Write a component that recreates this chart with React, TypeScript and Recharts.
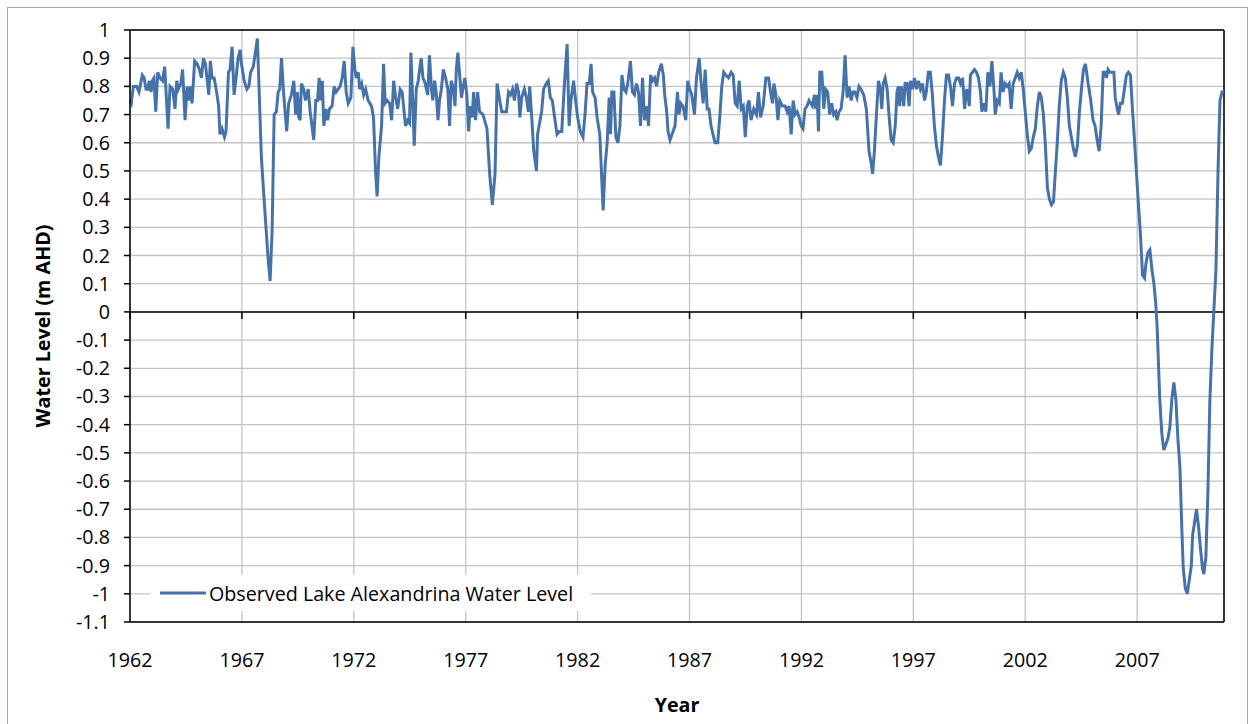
import {
  CartesianGrid,
  Line,
  LineChart,
  ReferenceLine,
  XAxis,
  YAxis,
} from "recharts";

// Observed Lake Alexandrina water level (m AHD), decimal year vs level
const years = [
  1962.0, 1962.06, 1962.15, 1962.3, 1962.4, 1962.55, 1962.63, 1962.72, 1962.8, 1962.86,
  1962.94, 1963.0, 1963.07, 1963.15, 1963.24, 1963.34, 1963.45, 1963.55, 1963.7, 1963.79,
  1963.91, 1964.01, 1964.09, 1964.16, 1964.27, 1964.35, 1964.46, 1964.55, 1964.62, 1964.7,
  1964.77, 1964.89, 1965.0, 1965.1, 1965.19, 1965.28, 1965.37, 1965.52, 1965.59, 1965.67,
  1965.76, 1965.87, 1965.96, 1966.02, 1966.11, 1966.22, 1966.29, 1966.4, 1966.47, 1966.56,
  1966.65, 1966.74, 1966.83, 1966.92, 1966.98, 1967.1, 1967.22, 1967.31, 1967.39, 1967.51,
  1967.69, 1967.87, 1967.95, 1968.05, 1968.17, 1968.26, 1968.35, 1968.44, 1968.54, 1968.62,
  1968.69, 1968.77, 1968.86, 1969.0, 1969.09, 1969.21, 1969.32, 1969.4, 1969.48, 1969.54,
  1969.6, 1969.66, 1969.76, 1969.84, 1969.96, 1970.05, 1970.21, 1970.3, 1970.38, 1970.45,
  1970.51, 1970.59, 1970.66, 1970.75, 1970.83, 1970.91, 1971.03, 1971.12, 1971.21, 1971.3,
  1971.39, 1971.48, 1971.57, 1971.66, 1971.75, 1971.87, 1971.96, 1972.05, 1972.11, 1972.2,
  1972.26, 1972.35, 1972.44, 1972.53, 1972.64, 1972.79, 1972.88, 1972.97, 1973.04, 1973.12,
  1973.24, 1973.33, 1973.4, 1973.49, 1973.6, 1973.69, 1973.78, 1973.87, 1973.96, 1974.07,
  1974.16, 1974.31, 1974.41, 1974.49, 1974.55, 1974.64, 1974.7, 1974.79, 1974.88, 1974.94,
  1975.01, 1975.09, 1975.19, 1975.3, 1975.38, 1975.47, 1975.53, 1975.61, 1975.68, 1975.76,
  1975.83, 1975.91, 1976.0, 1976.1, 1976.2, 1976.28, 1976.35, 1976.43, 1976.52, 1976.58,
  1976.65, 1976.72, 1976.81, 1976.87, 1976.96, 1977.05, 1977.13, 1977.2, 1977.29, 1977.35,
  1977.44, 1977.53, 1977.62, 1977.77, 1977.95, 1978.07, 1978.19, 1978.31, 1978.4, 1978.52,
  1978.61, 1978.7, 1978.82, 1978.91, 1979.0, 1979.09, 1979.18, 1979.27, 1979.36, 1979.42,
  1979.5, 1979.62, 1979.71, 1979.8, 1979.86, 1979.95, 1980.04, 1980.16, 1980.21, 1980.3,
  1980.39, 1980.48, 1980.6, 1980.69, 1980.78, 1980.87, 1980.99, 1981.08, 1981.18, 1981.29,
  1981.41, 1981.53, 1981.62, 1981.7, 1981.82, 1981.91, 1982.0, 1982.12, 1982.24, 1982.33,
  1982.42, 1982.52, 1982.6, 1982.67, 1982.78, 1982.87, 1982.99, 1983.14, 1983.23, 1983.32,
  1983.41, 1983.47, 1983.53, 1983.62, 1983.71, 1983.8, 1983.89, 1983.98, 1984.07, 1984.16,
  1984.24, 1984.36, 1984.45, 1984.54, 1984.63, 1984.72, 1984.81, 1984.9, 1984.99, 1985.08,
  1985.17, 1985.26, 1985.35, 1985.44, 1985.53, 1985.62, 1985.74, 1985.83, 1985.89, 1985.98,
  1986.04, 1986.13, 1986.22, 1986.35, 1986.46, 1986.53, 1986.61, 1986.71, 1986.83, 1986.92,
  1987.01, 1987.1, 1987.22, 1987.31, 1987.43, 1987.52, 1987.61, 1987.7, 1987.79, 1987.87,
  1987.96, 1988.05, 1988.14, 1988.26, 1988.35, 1988.44, 1988.53, 1988.62, 1988.74, 1988.86,
  1988.95, 1989.04, 1989.13, 1989.22, 1989.31, 1989.4, 1989.49, 1989.58, 1989.66, 1989.75,
  1989.87, 1989.99, 1990.08, 1990.17, 1990.29, 1990.41, 1990.53, 1990.62, 1990.71, 1990.77,
  1990.86, 1990.95, 1991.03, 1991.15, 1991.27, 1991.36, 1991.45, 1991.54, 1991.63, 1991.72,
  1991.81, 1991.9, 1991.99, 1992.07, 1992.16, 1992.25, 1992.34, 1992.49, 1992.58, 1992.64,
  1992.7, 1992.76, 1992.82, 1992.91, 1993.0, 1993.08, 1993.17, 1993.26, 1993.35, 1993.44,
  1993.53, 1993.59, 1993.68, 1993.77, 1993.86, 1993.95, 1994.04, 1994.13, 1994.22, 1994.3,
  1994.39, 1994.48, 1994.57, 1994.66, 1994.78, 1994.9, 1995.02, 1995.11, 1995.18, 1995.26,
  1995.35, 1995.44, 1995.53, 1995.59, 1995.65, 1995.74, 1995.83, 1995.92, 1996.01, 1996.1,
  1996.19, 1996.27, 1996.33, 1996.39, 1996.45, 1996.51, 1996.57, 1996.63, 1996.72, 1996.81,
  1996.87, 1996.96, 1997.05, 1997.14, 1997.23, 1997.32, 1997.41, 1997.5, 1997.58, 1997.67,
  1997.76, 1997.85, 1997.94, 1998.03, 1998.12, 1998.21, 1998.3, 1998.39, 1998.48, 1998.57,
  1998.66, 1998.75, 1998.84, 1998.93, 1999.02, 1999.11, 1999.2, 1999.29, 1999.38, 1999.44,
  1999.5, 1999.55, 1999.64, 1999.73, 1999.82, 1999.91, 2000.0, 2000.06, 2000.15, 2000.24,
  2000.33, 2000.42, 2000.51, 2000.6, 2000.66, 2000.75, 2000.84, 2000.92, 2001.01, 2001.1,
  2001.19, 2001.28, 2001.37, 2001.46, 2001.55, 2001.64, 2001.73, 2001.82, 2001.91, 2002.0,
  2002.09, 2002.18, 2002.27, 2002.36, 2002.45, 2002.54, 2002.63, 2002.72, 2002.81, 2002.9,
  2002.99, 2003.08, 2003.17, 2003.26, 2003.34, 2003.43, 2003.52, 2003.61, 2003.7, 2003.79,
  2003.88, 2003.97, 2004.06, 2004.15, 2004.24, 2004.33, 2004.42, 2004.51, 2004.6, 2004.69,
  2004.81, 2004.91, 2005.03, 2005.12, 2005.21, 2005.3, 2005.39, 2005.48, 2005.57, 2005.63,
  2005.7, 2005.78, 2005.87, 2005.96, 2006.02, 2006.11, 2006.17, 2006.25, 2006.34, 2006.43,
  2006.52, 2006.61, 2006.7, 2006.79, 2006.88, 2006.97, 2007.06, 2007.15, 2007.24, 2007.33,
  2007.39, 2007.48, 2007.57, 2007.66, 2007.75, 2007.83, 2007.89, 2007.95, 2008.01, 2008.1,
  2008.19, 2008.28, 2008.37, 2008.46, 2008.55, 2008.64, 2008.73, 2008.82, 2008.91, 2009.0,
  2009.06, 2009.15, 2009.24, 2009.33, 2009.42, 2009.48, 2009.56, 2009.65, 2009.74, 2009.83,
  2009.92, 2009.98, 2010.07, 2010.16, 2010.25, 2010.34, 2010.43, 2010.52, 2010.61, 2010.7,
  2010.79, 2010.88,
];

const levels = [
  0.75, 0.74, 0.8, 0.8, 0.78, 0.84, 0.83, 0.79, 0.79, 0.82,
  0.78, 0.82, 0.83, 0.71, 0.85, 0.83, 0.82, 0.87, 0.65, 0.8,
  0.79, 0.72, 0.82, 0.79, 0.81, 0.86, 0.68, 0.8, 0.75, 0.8,
  0.74, 0.89, 0.88, 0.86, 0.83, 0.9, 0.88, 0.77, 0.89, 0.83,
  0.83, 0.78, 0.73, 0.63, 0.65, 0.62, 0.64, 0.85, 0.86, 0.94,
  0.77, 0.83, 0.9, 0.93, 0.88, 0.82, 0.79, 0.8, 0.85, 0.87,
  0.97, 0.55, 0.45, 0.33, 0.19, 0.11, 0.29, 0.7, 0.71, 0.78,
  0.79, 0.9, 0.78, 0.64, 0.74, 0.77, 0.82, 0.7, 0.78, 0.69,
  0.68, 0.81, 0.79, 0.75, 0.79, 0.71, 0.61, 0.75, 0.75, 0.83,
  0.75, 0.82, 0.66, 0.72, 0.68, 0.72, 0.73, 0.8, 0.78, 0.79,
  0.8, 0.83, 0.89, 0.78, 0.74, 0.76, 0.94, 0.86, 0.83, 0.85,
  0.79, 0.81, 0.77, 0.79, 0.75, 0.73, 0.69, 0.5, 0.41, 0.55,
  0.66, 0.88, 0.74, 0.75, 0.74, 0.68, 0.82, 0.76, 0.72, 0.79,
  0.78, 0.66, 0.68, 0.67, 0.92, 0.73, 0.59, 0.79, 0.82, 0.86,
  0.9, 0.83, 0.81, 0.77, 0.91, 0.79, 0.75, 0.82, 0.78, 0.68,
  0.75, 0.79, 0.86, 0.83, 0.79, 0.66, 0.82, 0.8, 0.73, 0.86,
  0.92, 0.85, 0.76, 0.79, 0.83, 0.77, 0.64, 0.73, 0.69, 0.78,
  0.68, 0.78, 0.71, 0.7, 0.65, 0.49, 0.38, 0.49, 0.81, 0.75,
  0.71, 0.71, 0.71, 0.78, 0.77, 0.79, 0.75, 0.81, 0.78, 0.69,
  0.76, 0.79, 0.76, 0.71, 0.8, 0.69, 0.57, 0.5, 0.63, 0.67,
  0.71, 0.79, 0.81, 0.82, 0.76, 0.75, 0.68, 0.63, 0.64, 0.64,
  0.81, 0.95, 0.66, 0.75, 0.82, 0.75, 0.69, 0.64, 0.62, 0.7,
  0.81, 0.81, 0.88, 0.78, 0.76, 0.69, 0.63, 0.36, 0.52, 0.6,
  0.76, 0.63, 0.78, 0.78, 0.62, 0.6, 0.66, 0.84, 0.79, 0.78,
  0.81, 0.89, 0.78, 0.77, 0.81, 0.78, 0.66, 0.83, 0.68, 0.73,
  0.66, 0.84, 0.82, 0.83, 0.8, 0.85, 0.88, 0.84, 0.77, 0.71,
  0.64, 0.61, 0.63, 0.66, 0.78, 0.7, 0.74, 0.73, 0.68, 0.82,
  0.79, 0.77, 0.7, 0.83, 0.9, 0.81, 0.74, 0.86, 0.72, 0.72,
  0.66, 0.63, 0.6, 0.6, 0.69, 0.8, 0.85, 0.84, 0.83, 0.85,
  0.84, 0.74, 0.73, 0.82, 0.72, 0.73, 0.62, 0.73, 0.75, 0.68,
  0.72, 0.7, 0.78, 0.69, 0.73, 0.83, 0.83, 0.78, 0.74, 0.81,
  0.77, 0.68, 0.75, 0.73, 0.73, 0.71, 0.73, 0.63, 0.75, 0.7,
  0.71, 0.69, 0.66, 0.65, 0.72, 0.73, 0.75, 0.73, 0.77, 0.72,
  0.77, 0.64, 0.85, 0.85, 0.72, 0.79, 0.78, 0.7, 0.74, 0.7,
  0.71, 0.68, 0.71, 0.72, 0.78, 0.91, 0.76, 0.8, 0.75, 0.78,
  0.78, 0.76, 0.8, 0.79, 0.77, 0.72, 0.57, 0.53, 0.49, 0.57,
  0.7, 0.82, 0.79, 0.72, 0.81, 0.83, 0.79, 0.69, 0.61, 0.6,
  0.66, 0.78, 0.8, 0.73, 0.8, 0.78, 0.73, 0.81, 0.81, 0.73,
  0.82, 0.79, 0.83, 0.79, 0.82, 0.79, 0.81, 0.75, 0.78, 0.85,
  0.85, 0.77, 0.66, 0.59, 0.55, 0.52, 0.62, 0.75, 0.84, 0.84,
  0.8, 0.73, 0.81, 0.83, 0.83, 0.81, 0.83, 0.72, 0.79, 0.77,
  0.73, 0.84, 0.85, 0.86, 0.85, 0.83, 0.78, 0.71, 0.74, 0.71,
  0.85, 0.8, 0.89, 0.79, 0.7, 0.75, 0.74, 0.85, 0.78, 0.81,
  0.8, 0.81, 0.72, 0.81, 0.83, 0.85, 0.83, 0.85, 0.79, 0.71,
  0.63, 0.57, 0.58, 0.62, 0.65, 0.73, 0.78, 0.76, 0.7, 0.59,
  0.44, 0.4, 0.38, 0.39, 0.49, 0.6, 0.73, 0.82, 0.85, 0.83,
  0.76, 0.66, 0.62, 0.58, 0.55, 0.59, 0.71, 0.79, 0.86, 0.88,
  0.81, 0.76, 0.68, 0.66, 0.61, 0.57, 0.66, 0.85, 0.85, 0.83,
  0.86, 0.85, 0.85, 0.85, 0.76, 0.72, 0.7, 0.74, 0.74, 0.79,
  0.84, 0.85, 0.84, 0.72, 0.61, 0.49, 0.38, 0.27, 0.13, 0.12,
  0.17, 0.21, 0.22, 0.15, 0.1, 0.03, -0.05, -0.18, -0.31, -0.43,
  -0.49, -0.47, -0.45, -0.41, -0.31, -0.25, -0.31, -0.45, -0.55, -0.78,
  -0.91, -0.98, -1.0, -0.95, -0.9, -0.79, -0.75, -0.7, -0.76, -0.84,
  -0.91, -0.93, -0.87, -0.64, -0.31, -0.13, 0.01, 0.15, 0.49, 0.75,
  0.78, 0.78,
];

const yearTicks = [1962, 1967, 1972, 1977, 1982, 1987, 1992, 1997, 2002, 2007];
const levelTicks = [
  1, 0.9, 0.8, 0.7, 0.6, 0.5, 0.4, 0.3, 0.2, 0.1, 0, -0.1, -0.2, -0.3, -0.4, -0.5,
  -0.6, -0.7, -0.8, -0.9, -1, -1.1,
];

const X_MAX = 2010.88;
const LINE_COLOR = "#4672aa";
const GRID_COLOR = "#c3c3c3";
const FONT = "'Open Sans', sans-serif";
const TEXT_SIZE = 19.7;

const chartData = years.map((t, i) => ({ t, level: levels[i] }));

const formatLevel = (v: number) => String(Math.round(v * 10) / 10);

export default function App() {
  return (
    <div
      style={{
        position: "absolute",
        left: 0,
        top: 0,
        width: 1250,
        height: 724,
        overflow: "hidden",
        background: "#fff",
      }}
    >
      {/* outer chart frame */}
      <div
        style={{
          position: "absolute",
          left: 7,
          top: 7,
          width: 1241,
          height: 740,
          border: "1px solid #a6a6a6",
          boxSizing: "border-box",
        }}
      />
      <LineChart
        width={1250}
        height={724}
        data={chartData}
        margin={{ top: 30, right: 26, bottom: 8, left: 20 }}
        style={{ position: "absolute", left: 0, top: 0 }}
      >
        <CartesianGrid stroke={GRID_COLOR} strokeWidth={1.3} />
        <XAxis
          dataKey="t"
          type="number"
          domain={[1962, X_MAX]}
          ticks={yearTicks}
          interval={0}
          height={94}
          tickLine={false}
          tickSize={0}
          tickMargin={31}
          axisLine={{ stroke: "#000", strokeWidth: 1.5 }}
          tick={{ fill: "#000", fontSize: TEXT_SIZE, fontFamily: FONT }}
          label={{
            value: "Year",
            position: "insideBottom",
            offset: 4,
            style: { fill: "#000", fontSize: TEXT_SIZE, fontWeight: 700, fontFamily: FONT },
          }}
        />
        <YAxis
          type="number"
          domain={[-1.1, 1]}
          ticks={levelTicks}
          interval={0}
          width={110}
          tickSize={6}
          tickMargin={14}
          tickFormatter={formatLevel}
          axisLine={{ stroke: "#000", strokeWidth: 1.5 }}
          tickLine={{ stroke: "#000", strokeWidth: 1.5 }}
          tick={{ fill: "#000", fontSize: TEXT_SIZE, fontFamily: FONT }}
          label={{
            content: ({ viewBox }: any) => {
              const cx = viewBox.x + 22;
              const cy = viewBox.y + viewBox.height / 2;
              return (
                <text
                  x={cx}
                  y={cy}
                  transform={`rotate(-90, ${cx}, ${cy})`}
                  textAnchor="middle"
                  dominantBaseline="central"
                  fill="#000"
                  fontSize={TEXT_SIZE}
                  fontWeight={700}
                  fontFamily={FONT}
                >
                  Water Level (m AHD)
                </text>
              );
            },
          }}
        />
        {/* plot area frame: top and right edges */}
        <ReferenceLine y={1} stroke="#000" strokeWidth={1.5} />
        <ReferenceLine x={X_MAX} stroke="#000" strokeWidth={1.5} />
        {/* horizontal axis crosses at zero, with its tick marks */}
        <ReferenceLine y={0} stroke="#000" strokeWidth={1.5} />
        {yearTicks.map((yr) => (
          <ReferenceLine
            key={yr}
            segment={[
              { x: yr, y: 0 },
              { x: yr, y: -0.025 },
            ]}
            stroke="#000"
            strokeWidth={1.5}
          />
        ))}
        <Line
          type="linear"
          dataKey="level"
          stroke={LINE_COLOR}
          strokeWidth={3}
          dot={false}
          activeDot={false}
          isAnimationActive={false}
          name="Observed Lake Alexandrina Water Level"
        />
      </LineChart>
      {/* legend box sits over the lower-left of the plot */}
      <div
        style={{
          position: "absolute",
          left: 150,
          top: 575,
          width: 441,
          height: 36,
          background: "#fff",
          display: "flex",
          alignItems: "center",
          fontFamily: FONT,
          fontSize: TEXT_SIZE,
          color: "#000",
          boxSizing: "border-box",
          paddingLeft: 10,
        }}
      >
        <svg width={46} height={6} style={{ display: "block" }}>
          <line x1={0} y1={3} x2={46} y2={3} stroke={LINE_COLOR} strokeWidth={3} />
        </svg>
        <span style={{ marginLeft: 3, whiteSpace: "nowrap" }}>
          Observed Lake Alexandrina Water Level
        </span>
      </div>
    </div>
  );
}
